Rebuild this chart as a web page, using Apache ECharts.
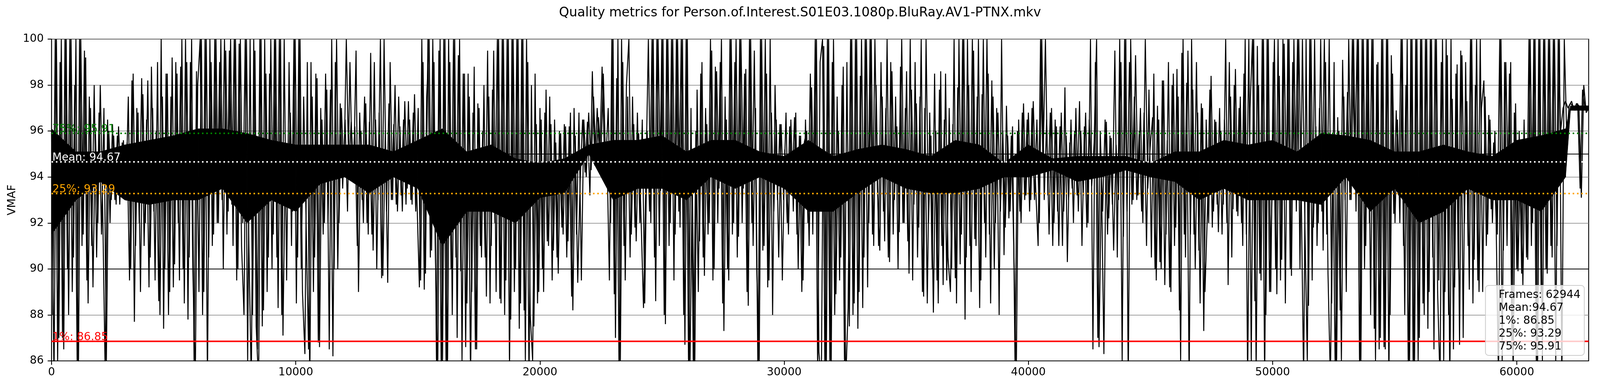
<!DOCTYPE html>
<html>
<head>
<meta charset="utf-8">
<script src="https://cdn.jsdelivr.net/npm/echarts@6/dist/echarts.min.js"></script>
<style>html,body{margin:0;padding:0;background:#fff;overflow:hidden}#c{width:100vw;height:100vh}</style>
</head>
<body>
<div id="c"></div>
<script>
const TITLE = 'Quality metrics for Person.of.Interest.S01E03.1080p.BluRay.AV1-PTNX.mkv';
const FRAMES = 62944;
const xTicks = [0, 10000, 20000, 30000, 40000, 50000, 60000];
const yTicks = [86, 88, 90, 92, 94, 96, 98, 100];
const statNames = ['75%', 'Mean', '25%', '1%'];
const statValues = [95.91, 94.67, 93.29, 86.85];
const statColors = ['#008000', '#ffffff', '#ffa500', '#ff0000'];
const refLines = [90, 95];

// solid core of the trace (bottom / top of the densest black band), every 1000 frames, last at final frame
const coreFrames = [0,1000,2000,3000,4000,5000,6000,7000,8000,9000,10000,11000,12000,13000,14000,15000,16000,17000,18000,19000,20000,21000,22000,23000,24000,25000,26000,27000,28000,29000,30000,31000,32000,33000,34000,35000,36000,37000,38000,39000,40000,41000,42000,43000,44000,45000,46000,47000,48000,49000,50000,51000,52000,53000,54000,55000,56000,57000,58000,59000,60000,61000,62000,62200,62943];
const coreLo = [91.5,93,93.8,93,92.8,93,93,93.5,92,93,92.5,93.7,94,93.3,94,93.5,91,92.5,92.5,92,93.1,93.3,95,93,93.5,93.5,93,94,93.5,94,93.5,92.5,92.5,93.3,94,93.5,93.3,93.3,93.5,94,94,94.3,93.8,94,94.3,94,93.8,93,93.5,93,93,93,92.8,94,92.5,93.5,92,92.5,93.5,93,93,92.5,94,96.9,96.9];
const coreHi = [96.1,95.1,95.1,95.4,95.6,95.8,96.1,96.1,95.9,95.6,95.4,95.4,95.4,95.4,95.1,95.6,96.1,95.1,95.4,94.8,94.6,94.8,95.4,95.6,95.6,95.8,95.1,95.6,95.6,95.1,94.9,95.6,94.9,95.2,95.4,95.2,94.9,95.6,95.4,94.6,95.4,94.8,94.9,94.9,94.9,94.6,95.1,95.1,95.6,95.4,95.6,95.1,95.9,95.8,95.6,95.1,95.1,95.4,95.1,94.9,95.6,95.8,96.1,97.1,97.1];

// VMAF peaks / troughs, evenly spaced over all frames (trace A)
const seg1 = [96,85,100,87,100,86.5,100,88,100,90.5,100,85,100,91.5,99.2,88.5,97,89.2,96,92,98,92.5,85.5,96.5,92,96.3,93,95.8,92.8,95.5,93.5,95.5,89.5,98.2,87.7,97,92,98.3,91,96.5,89.2,98.8,92.5,96,88.6,100,87.4,98.5,88,97.5,89.2,99,92,98.8,90,100,87.8,99,90,85,98,100,88,100,85,100,91,100,92,99,93,100,91.5,99.5,92.8,100,89.5,99.8,91];
const seg2 = [88,100,91,85,100,87.5,85,100,88.2,98.5,90.5,100,91.5,100,88.3,100,87.1,95.5,93,96.8,92.5,100,90.5,100,89,86.3,99,85,97.5,90.5,98.3,86.6,96.5,92,97.8,86.5,100,90,100,92,97,94,100,94.3,96.4,94,99.5,89,96,92,97.2,91.5,99.4,90.8,96.5,93,100,89.7,96,89.4,99,93,98,92.5,96.2,92.5,97.3,93.5,96.5,92.8,97.6,93,89.2,100,89.1,97.5,100,90.8,99];
const seg3 = [86,99.5,85,100,85,100,90,100,90.5,99.3,89.9,98.5,86.6,98.5,85,96.8,86.5,97.2,91,96,90.5,99.5,88.5,97.8,92,100,88.7,100,88,100,85.5,100,89,100,87.4,100,88.2,100,85,98,87.5,96.3,89,96.5,89,97.8,91,96.3,90.8,95.5,89.8,95.9,91.5,96.2,91.2,96.8,88.2,95.8,89.4,93.8,96.5,94.2,96.4,93.2,98.6,94.5,97,94.7,98.8,94.8,95,89.5,100,88.9,98.3,85,100,91,98];
const seg4 = [100,91.5,96.3,91.2,95.9,92.2,88.3,94,100,92,100,88.6,100,93.4,100,87.6,100,92,100,91.5,100,91.8,100,86.7,100,85,94,85,97.8,91.2,99,89.7,96.3,92,99.5,90,98.6,93.5,100,87.3,96.5,89.5,100,92,100,91.4,100,93.5,98.7,88.4,100,91,97,85,100,90.8,100,89.2,100,88,98,93,96.3,89.5,95.2,92,96.2,93.5,96.6,91.5,95.8,89,95.5,96,91,97.9,92.5,100,86.4];
const seg5 = [85,99.7,85,100,85,100,88.9,96,90.5,98.8,85,88.3,100,88,100,87.4,98.4,88.3,100,89.2,100,91.5,100,93.5,90.8,97.5,91.2,100,90.3,98.6,93,96.2,91.6,100,92,98.6,89.8,97.8,92.8,97.2,91.8,100,88.8,100,92,95.8,88.1,96,88.5,98.6,89.3,98.5,90.5,89,96.3,89.6,97.9,90.2,100,87.8,100,91,100,91.3,97.5,88.3,97.6,92,100,91.5,98.2,90,97,88,100,90.6,97.1,92.2,95.8];
const seg6 = [91,85,96.5,92,97.2,93.2,96.8,93,97.3,93.5,91,100,94.5,100,93.2,96.8,91,96.5,92.5,96.2,91,97.9,90.3,95.5,93.5,96,93.2,97.3,91,96.2,91.8,96.5,93.6,95.5,100,86.6,94,86.3,96.4,92.2,95.7,90.8,95.4,93,99,91.4,100,85,100,93,99.3,93.2,97,92,100,93.5,95.3,96.6,90,97.1,90.3,98.2,89.3,95.6,89.2,98,91,98.7,88.2,99.4,91.5,98.1,85,100,91.5,99,90.8,97.2,87.3];
const seg7 = [96.5,92,98.4,92.5,96.4,91.6,96,92.8,100,89.3,97.5,92.6,98.7,92.3,97.5,91,100,85,97,100,88.6,99.7,89.8,100,85,100,89,93,100,88.9,98.4,90.4,99.8,93,100,89.7,100,92.5,100,93.5,85,100,88.4,100,91.8,96.2,92,100,90.8,99,89.8,85,95.5,85,96.6,88.2,99.1,93,97.7,93,100,94.5,100,85,100,90,100,92,100,87.4,98.9,86.5,100,86.6,100,85,99.3,92.4,96.9];
const seg8 = [93.2,100,91,98,85,100,85,100,86,100,88.5,100,87.4,100,90.5,100,89,85,100,89,99.3,85,97.4,89.2,98.9,86.7,99.3,92,97.3,89.1,100,90.4,100,89,97,98.2,91,96.7,92.6,95.5,92.2,85,100,90.8,99,93.5,99,85,97.2,89.9,95.5,89.3,95.6,90.4,100,92,100,85,100,86,100,89.8,100,90.5,100,91,100,85,100,95.8,97.1,97.3,96.9,97.2,97.1,93.1,98,96.8,97];

// the frames in between (trace B, half a step later)
const seg1b = [88,100,86,99,87,100,90,100,89,98,86,100,91,99.5,89.5,97.5,91,98,90.5,96.8,91.5,97,86,96,93,95.8,92.8,96.2,93.5,95.6,93,97.5,90,98.5,91,96.8,89,97.6,92,98.2,90.5,97,89.5,99,88,97.5,90,98.5,89,99.2,90.2,98.5,89.5,100,88.5,99,90.5,100,86,98.6,89,100,89,100,90.5,99,91.5,100,92,100,90,99.5,92.5,100,91,100,90,100,92];
const seg2b = [100,86,100,88,99.5,86.5,100,87.5,100,89,98.5,90,100,90.5,100,88,100,89.5,99,91,100,88.5,100,90,97.5,92,86.5,99,89,98.5,86.8,97,91.5,98.5,92,97.8,86.2,99,90,97.2,93.5,96.5,92.5,99,93.8,96.2,91,96.8,93,97.5,92,96.4,91.5,99,90,96.8,89.6,100,92.5,97.2,93,96.3,92.8,97.5,93.2,96.5,92.8,97.3,93,96.8,92.5,97,89.5,99,89.8,100,90.5,100,91];
const seg3b = [85,100,86,100,85,99,88,100,87,100,86,98.5,88.5,97.5,89,98.8,86.5,97,90.5,98,88.8,97.5,91,99.5,89,100,88.5,100,89.5,100,87.8,100,90,100,88.5,100,86,99,88,86,98.5,88.5,97,90,96.8,91.2,97.5,89.5,96.5,90.5,96,91.8,96.3,90.5,96.2,88.8,97,91.5,96.8,89.5,96.5,94,96.8,94.3,97.5,94.6,96.6,94.8,98.5,94.5,97,92,100,87,100,86,99,89.5,97.5];
const seg4b = [90.5,97.5,91.8,96.8,92,96.5,88.5,96,92.5,100,90.5,100,91,100,88,100,91,100,89.5,100,92.5,100,88,100,85.5,97,85,96,89,98.5,90.5,97,91.5,100,89.5,98.8,92,99,88.5,97.5,90,100,91.5,99,90.5,100,92,98.5,89,100,92,99.5,90,86,100,91,98.5,89.5,96.8,92.5,96.5,90.5,96.3,93,96.8,91.5,96.5,92.5,96.8,90,95.8,89.5,96.5,92,98.5,91.5,100,85.5,99];
const seg5b = [100,85,100,86,99,88,97.5,89.5,98,86,99,87.5,100,88.5,100,89,100,90.5,100,92,100,91,98,91,99,92.5,97,90.5,99,91.5,97.5,90,98.8,92,97,91.2,100,89.5,99,90.5,97.5,89,97,88.5,96.8,90,98.5,89.5,97.8,91,96.5,89.5,97,90,100,88.5,100,91.5,100,90.5,98,89,99.5,91,100,89.5,100,90.5,98.5,88.5,97.5,92,96.8,92.5,96,91.8,95.8,92.5,96.2];
const seg6b = [86,96,92.5,96.8,93,96.5,92.5,97,93,96.5,92,100,93,96.5,91.5,97,92,96.2,91,96.8,92.5,95.8,93,96.5,92,97,92.5,96,93.2,96.8,92,100,86.5,99,87,96,92.5,96.5,91.5,95.8,92.8,99.5,90.5,100,86,100,92.5,99,92.8,97.5,93,96,92.5,96.8,91,97.8,90.5,98.5,89.5,96.5,90,98.2,91.5,99,89,98.5,91.8,97.5,86,100,90.5,99.5,91.5,97.8,90,96.8,88.5,97,89];
const seg7b = [92.5,97.8,91.8,96.5,92.8,97,91.5,96.5,92,99,90.5,98,92.5,97,92,98.5,91.5,100,86,100,85.5,98,89.5,100,88,100,89,99,90,100,89.5,100,88.5,100,90,99,93,100,90,100,92,86,100,89.5,100,91,97,92.5,100,91.5,100,88.5,99,85.5,96,86,97.5,89,100,93,100,92.5,100,86,100,91,100,88,100,86,99,87,100,86.5,100,88,98.5,92,96.5];
const seg8b = [92,100,88,100,86,100,85.5,100,87,100,88,100,89,100,86.5,100,89.5,99,86,100,88,100,86.5,98.5,90,99.5,87,99,91,100,88.5,98,89.5,100,89,97.5,91.5,96.5,92,96,91.5,100,86,99,91,98.5,86.5,96.8,90,96,89.8,96.5,90.5,100,91,100,86,100,89,100,90,100,91,100,86,100,96,97,97.3,97,97.2,97.1,96.9,97.2,93.5,97.8,97];

const traceA = [].concat(seg1, seg2, seg3, seg4, seg5, seg6, seg7, seg8);
const traceB = [].concat(seg1b, seg2b, seg3b, seg4b, seg5b, seg6b, seg7b, seg8b);
const step = (FRAMES - 1) / (traceA.length - 1);
const pointsA = traceA.map((v, i) => [i * step, v]);
const pointsB = traceB.map((v, i) => [(i + 0.5) * step, v]);
const bandData = coreFrames.slice(0, -1).map((f, i) => [f, coreLo[i], coreHi[i], coreFrames[i + 1], coreLo[i + 1], coreHi[i + 1]]);

const FONT = 'DejaVu Sans';
const W = window.innerWidth || 4400;
const H = window.innerHeight || 1000;
const sx = W / 4400;
const dom = document.getElementById('c');
const chart = echarts.init(dom, null, {renderer: 'canvas', width: W, height: H});

const boxText = [
  'Frames: ' + FRAMES,
  statNames[1] + ':' + statValues[1].toFixed(2),
  statNames[3] + ': ' + statValues[3].toFixed(2),
  statNames[2] + ': ' + statValues[2].toFixed(2),
  statNames[0] + ': ' + statValues[0].toFixed(2)
].join('\n');

const traceStyle = {color: '#000', width: 2.6};

chart.setOption({
  animation: false,
  backgroundColor: '#ffffff',
  textStyle: {fontFamily: FONT},
  title: [
    {text: TITLE, left: 'center', top: 12,
     textStyle: {fontFamily: FONT, fontSize: 33, fontWeight: 'normal', color: '#000'}},
    {text: boxText, right: Math.round(43 * sx), top: 730,
     backgroundColor: 'rgba(255,255,255,0.8)', borderColor: '#cccccc', borderWidth: 2, borderRadius: 8,
     padding: [8, 10, 6, 34],
     textStyle: {fontFamily: FONT, fontSize: 28, lineHeight: 33, fontWeight: 'normal', color: '#000'}, z: 10}
  ],
  grid: {left: Math.round(142 * sx), right: Math.round(31 * sx), top: 100, bottom: 77, show: true, borderColor: '#000', borderWidth: 2.2, backgroundColor: 'transparent'},
  xAxis: {
    type: 'value', min: 0, max: FRAMES,
    splitLine: {show: false},
    axisLine: {show: true, lineStyle: {color: '#000', width: 2.2}},
    axisTick: {show: true, customValues: xTicks, length: 10, lineStyle: {color: '#000', width: 2.2}},
    axisLabel: {customValues: xTicks, formatter: v => String(v), fontSize: 28, color: '#000', margin: 16, fontFamily: FONT}
  },
  yAxis: {
    type: 'value', min: 86, max: 100, interval: 1,
    name: 'VMAF', nameLocation: 'middle', nameGap: 86, nameTextStyle: {fontSize: 28, color: '#000', fontFamily: FONT},
    splitLine: {show: true, lineStyle: {color: '#808080', width: 1.5}},
    axisLine: {show: true, lineStyle: {color: '#000', width: 2.2}},
    axisTick: {show: true, customValues: yTicks, length: 10, lineStyle: {color: '#000', width: 2.2}},
    axisLabel: {customValues: yTicks, formatter: v => String(v), fontSize: 28, color: '#000', margin: 20, fontFamily: FONT}
  },
  series: [
    {type: 'line', data: [], z: 1, silent: true,
     markLine: {symbol: 'none', silent: true, animation: false, label: {show: false},
       lineStyle: {color: '#000', width: 1.8, type: 'solid'},
       data: refLines.map(v => ({yAxis: v}))}},
    {type: 'custom', data: bandData, z: 2, silent: true, clip: true,
     renderItem: function (params, api) {
       const a = api.coord([api.value(0), api.value(1)]);
       const b = api.coord([api.value(3), api.value(4)]);
       const c = api.coord([api.value(3), api.value(5)]);
       const d = api.coord([api.value(0), api.value(2)]);
       return {type: 'polygon', shape: {points: [a, b, c, d]}, style: {fill: '#000', stroke: '#000', lineWidth: 1}};
     },
     encode: {x: [0, 3], y: [1, 2, 4, 5]}},
    {type: 'line', data: pointsA, showSymbol: false, z: 2, silent: true, lineStyle: traceStyle, clip: true},
    {type: 'line', data: pointsB, showSymbol: false, z: 2, silent: true, lineStyle: traceStyle, clip: true},
    {type: 'line', data: [], z: 3, silent: true,
     markLine: {symbol: 'none', silent: true, animation: false,
       data: statValues.map((v, i) => ({
         yAxis: v,
         lineStyle: {color: statColors[i], width: 4, type: i === 3 ? 'solid' : [4, 7]},
         label: {show: true, position: 'insideStartTop', distance: [2, -4],
           formatter: statNames[i] + ': ' + v.toFixed(2),
           color: statColors[i], fontSize: 28, fontFamily: FONT}
       }))}}
  ]
});
</script>
</body>
</html>
